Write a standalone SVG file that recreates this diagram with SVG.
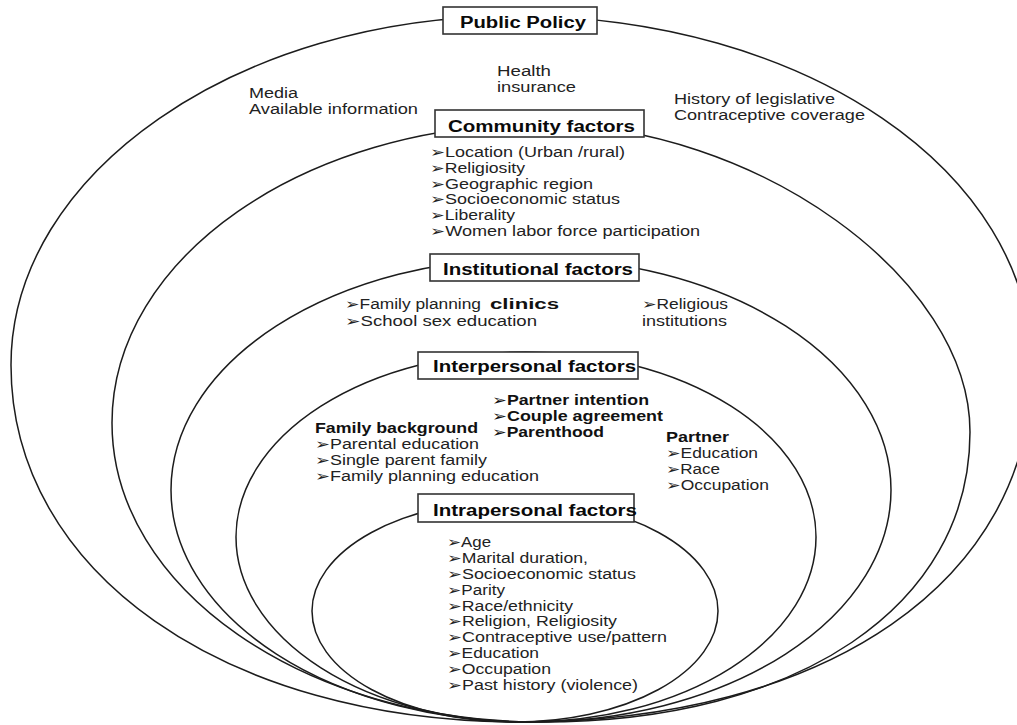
<svg xmlns="http://www.w3.org/2000/svg" width="1017" height="725" viewBox="0 0 1017 725">
<style>
.ring{fill:none;stroke:#1c1c1c;stroke-width:1.5}
.box{fill:#fff;stroke:#333;stroke-width:1.6}
text{font-family:"Liberation Sans","DejaVu Sans",Arial,sans-serif}
.h{font-size:16px;font-weight:bold;fill:#0a0a0a}
.t{font-size:14px;fill:#222}
.b{font-size:14px;font-weight:bold;fill:#111}
</style>
<rect width="1017" height="725" fill="#fff"/>

<g id="public-policy">
<path class="ring" d="M515,16 C804.5,16 1032,170.9 1032,368 C1032,580.4 827.2,722 520,722 C224.8,722 11,572.1 11,365 C11,173.1 237.8,16 515,16 Z"/>
<rect class="box" x="443" y="7" width="154" height="27"/>
<text class="h" x="460" y="28" textLength="126" lengthAdjust="spacingAndGlyphs">Public Policy</text>
<text class="t" x="249" y="98" textLength="49" lengthAdjust="spacingAndGlyphs">Media</text>
<text class="t" x="249" y="114" textLength="169" lengthAdjust="spacingAndGlyphs">Available information</text>
<text class="t" x="497" y="76" textLength="54" lengthAdjust="spacingAndGlyphs">Health</text>
<text class="t" x="497" y="92" textLength="79" lengthAdjust="spacingAndGlyphs">insurance</text>
<text class="t" x="674" y="104" textLength="161" lengthAdjust="spacingAndGlyphs">History of legislative</text>
<text class="t" x="674" y="120" textLength="191" lengthAdjust="spacingAndGlyphs">Contraceptive coverage</text>
</g>

<g id="community-factors">
<path class="ring" d="M541,124 C755.5,124 970,278 970,432 C970,606 798.4,722 541,722 C304.1,722 112,588.1 112,423 C112,257.9 304.1,124 541,124 Z"/>
<rect class="box" x="435" y="110" width="209" height="27"/>
<text class="h" x="448" y="132" textLength="187" lengthAdjust="spacingAndGlyphs">Community factors</text>
<text class="t" x="430" y="157" textLength="195" lengthAdjust="spacingAndGlyphs">➢Location (Urban /rural)</text>
<text class="t" x="430" y="173" textLength="95" lengthAdjust="spacingAndGlyphs">➢Religiosity</text>
<text class="t" x="430" y="189" textLength="163" lengthAdjust="spacingAndGlyphs">➢Geographic region</text>
<text class="t" x="430" y="204" textLength="190" lengthAdjust="spacingAndGlyphs">➢Socioeconomic status</text>
<text class="t" x="430" y="220" textLength="85" lengthAdjust="spacingAndGlyphs">➢Liberality</text>
<text class="t" x="430" y="236" textLength="270" lengthAdjust="spacingAndGlyphs">➢Women labor force participation</text>
</g>

<g id="institutional-factors">
<ellipse class="ring" cx="531" cy="490" rx="360" ry="232"/>
<rect class="box" x="430" y="254" width="209" height="27"/>
<text class="h" x="443" y="275" textLength="190" lengthAdjust="spacingAndGlyphs">Institutional factors</text>
<text class="t" x="345" y="309" textLength="136" lengthAdjust="spacingAndGlyphs">➢Family planning</text>
<text class="b" x="490" y="309" textLength="69" lengthAdjust="spacingAndGlyphs">clinics</text>
<text class="t" x="345" y="326" textLength="192" lengthAdjust="spacingAndGlyphs">➢School sex education</text>
<text class="t" x="642" y="309" textLength="86" lengthAdjust="spacingAndGlyphs">➢Religious</text>
<text class="t" x="642" y="326" textLength="85" lengthAdjust="spacingAndGlyphs">institutions</text>
</g>

<g id="interpersonal-factors">
<ellipse class="ring" cx="526" cy="537" rx="290" ry="185"/>
<rect class="box" x="418" y="352" width="220" height="27"/>
<text class="h" x="433" y="372" textLength="203" lengthAdjust="spacingAndGlyphs">Interpersonal factors</text>
<text class="b" x="492" y="405" textLength="157" lengthAdjust="spacingAndGlyphs">➢Partner intention</text>
<text class="b" x="492" y="421" textLength="171" lengthAdjust="spacingAndGlyphs">➢Couple agreement</text>
<text class="b" x="492" y="437" textLength="112" lengthAdjust="spacingAndGlyphs">➢Parenthood</text>
<text class="b" x="315" y="433" textLength="163" lengthAdjust="spacingAndGlyphs">Family background</text>
<text class="t" x="315" y="449" textLength="164" lengthAdjust="spacingAndGlyphs">➢Parental education</text>
<text class="t" x="315" y="465" textLength="172" lengthAdjust="spacingAndGlyphs">➢Single parent family</text>
<text class="t" x="315" y="481" textLength="224" lengthAdjust="spacingAndGlyphs">➢Family planning education</text>
<text class="b" x="666" y="442" textLength="63" lengthAdjust="spacingAndGlyphs">Partner</text>
<text class="t" x="666" y="458" textLength="92" lengthAdjust="spacingAndGlyphs">➢Education</text>
<text class="t" x="666" y="474" textLength="54" lengthAdjust="spacingAndGlyphs">➢Race</text>
<text class="t" x="666" y="490" textLength="103" lengthAdjust="spacingAndGlyphs">➢Occupation</text>
</g>

<g id="intrapersonal-factors">
<ellipse class="ring" cx="515" cy="611" rx="203" ry="111"/>
<rect class="box" x="418" y="494" width="216" height="28"/>
<text class="h" x="433" y="516" textLength="204" lengthAdjust="spacingAndGlyphs">Intrapersonal factors</text>
<text class="t" x="447" y="547" textLength="44" lengthAdjust="spacingAndGlyphs">➢Age</text>
<text class="t" x="447" y="563" textLength="141" lengthAdjust="spacingAndGlyphs">➢Marital duration,</text>
<text class="t" x="447" y="579" textLength="189" lengthAdjust="spacingAndGlyphs">➢Socioeconomic status</text>
<text class="t" x="447" y="595" textLength="58" lengthAdjust="spacingAndGlyphs">➢Parity</text>
<text class="t" x="447" y="611" textLength="126" lengthAdjust="spacingAndGlyphs">➢Race/ethnicity</text>
<text class="t" x="447" y="626" textLength="170" lengthAdjust="spacingAndGlyphs">➢Religion, Religiosity</text>
<text class="t" x="447" y="642" textLength="220" lengthAdjust="spacingAndGlyphs">➢Contraceptive use/pattern</text>
<text class="t" x="447" y="658" textLength="92" lengthAdjust="spacingAndGlyphs">➢Education</text>
<text class="t" x="447" y="674" textLength="104" lengthAdjust="spacingAndGlyphs">➢Occupation</text>
<text class="t" x="447" y="690" textLength="191" lengthAdjust="spacingAndGlyphs">➢Past history (violence)</text>
</g>
</svg>
